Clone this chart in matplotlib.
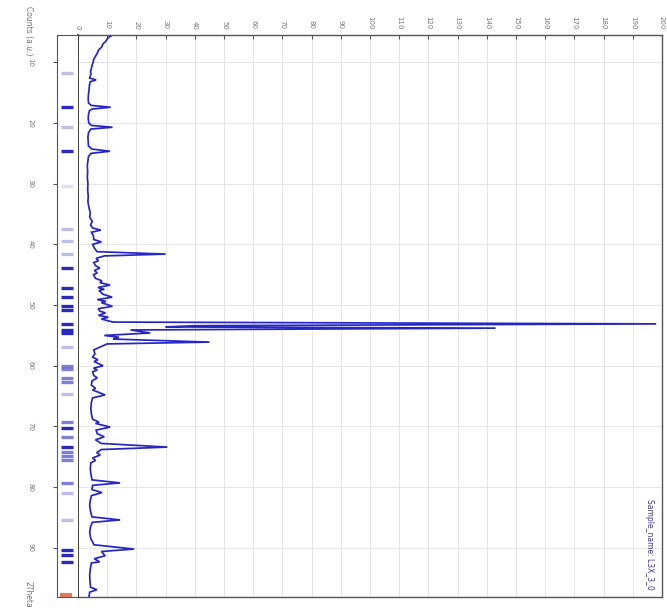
import matplotlib
matplotlib.use("Agg")
import matplotlib.pyplot as plt

# Measured scan: position (°2Theta) and counts
two_theta = [5.6, 6.0, 6.5, 7.0, 7.5, 8.0, 8.5, 9.0, 9.5, 10.0, 10.5, 11.0, 11.5, 12.0,
             12.6, 12.9, 13.2, 13.8, 14.5, 15.2, 16.0, 16.7, 17.1, 17.4, 17.7, 18.0,
             18.6, 19.3, 20.0, 20.4, 20.7, 21.0, 21.6, 22.3, 23.0, 23.8, 24.3, 24.65,
             25.0, 25.5, 26.3, 27.0, 28.0, 29.0, 30.0, 31.0, 32.0, 33.0, 34.0, 34.8,
             35.5, 36.2, 36.8, 37.3, 37.65, 38.0, 38.6, 39.2, 39.6, 40.0, 40.6, 41.2,
             41.6, 41.9, 42.3, 42.7, 43.0, 43.5, 43.9, 44.3, 44.7, 45.0, 45.6, 46.0,
             46.3, 46.7, 47.1, 47.4, 47.6, 48.2, 48.7, 49.1, 49.4, 49.6, 50.2, 50.6,
             51.0, 51.3, 51.7, 52.0, 52.3, 52.8, 53.1, 53.4, 53.6, 53.8, 54.1, 54.6,
             55.0, 55.3, 55.6, 56.1, 56.4, 56.9, 57.4, 58.0, 58.6, 59.0, 59.3, 60.0,
             60.4, 60.7, 61.0, 61.6, 62.0, 62.5, 63.2, 63.7, 64.0, 64.8, 65.3, 66.0,
             67.0, 68.0, 68.8, 69.3, 69.5, 70.1, 70.6, 71.2, 71.7, 72.2, 72.8, 73.4,
             73.8, 74.3, 74.7, 75.2, 75.6, 76.0, 77.0, 78.0, 78.8, 79.3, 79.7, 80.4,
             80.9, 81.4, 82.2, 83.0, 84.0, 84.9, 85.4, 85.8, 86.5, 87.5, 88.5, 89.5,
             90.2, 90.6, 91.3, 91.8, 92.3, 92.5, 93.5, 94.5, 95.5, 96.5, 96.9, 97.3,
             98.0]
counts = [11.5, 10.2, 9.6, 8.5, 8.1, 7.0, 6.6, 6.0, 5.4, 5.2, 4.8, 4.6, 4.3, 4.4,
          4.0, 6.2, 4.2, 3.9, 3.8, 3.6, 3.5, 3.6, 4.5, 11.2, 4.8, 3.9,
          3.6, 3.5, 3.7, 4.6, 11.8, 4.4, 3.6, 3.4, 3.5, 3.6, 4.8, 11.0,
          4.5, 3.6, 3.4, 3.2, 3.3, 3.2, 3.4, 3.3, 3.5, 3.4, 3.8, 4.2,
          4.0, 4.9, 4.3, 5.0, 7.8, 4.6, 5.3, 5.4, 8.0, 5.0, 5.6, 6.5,
          30.0, 9.0, 6.2, 7.0, 5.4, 6.0, 7.5, 5.6, 6.6, 5.3, 6.0, 8.2,
          7.5, 11.0, 6.8, 9.0, 7.2, 8.5, 11.7, 6.6, 9.6, 8.0, 11.8, 6.9,
          7.5, 9.4, 7.0, 10.4, 8.0, 12.0, 198.0, 40.0, 30.0, 143.0, 18.0, 24.7,
          9.0, 14.0, 12.0, 45.0, 10.0, 7.6, 5.4, 5.8, 5.0, 6.8, 5.5, 8.6,
          5.3, 6.6, 5.0, 5.4, 6.6, 4.8, 4.6, 6.0, 5.0, 9.3, 5.0, 4.6,
          4.4, 4.6, 5.0, 7.2, 6.0, 11.0, 6.2, 6.6, 9.0, 6.0, 8.0, 30.6,
          8.0, 6.4, 7.6, 5.0, 6.0, 4.4, 4.2, 4.5, 4.8, 14.4, 5.0, 4.8,
          8.2, 4.6, 4.2, 4.0, 4.3, 4.8, 14.4, 4.9, 4.3, 4.0, 4.4, 5.5,
          19.2, 8.0, 9.3, 5.6, 7.4, 4.6, 4.2, 4.0, 4.1, 4.3, 6.5, 4.0,
          3.8]

# Reference pattern: stick positions (°2Theta) and relative strength
ref_pos = [11.8, 17.4, 20.7, 24.65, 30.4, 37.5, 39.5, 41.6, 43.9, 47.2, 48.7, 50.2,
           50.8, 53.1, 54.1, 54.6, 56.9, 60.0, 60.5, 62.0, 62.7, 64.65, 69.3, 70.2,
           71.7, 73.4, 74.2, 74.9, 75.5, 79.3, 80.9, 85.4, 90.3, 91.15, 92.3]
ref_strength = [0.3, 1.0, 0.3, 1.0, 0.15, 0.3, 0.3, 0.3, 1.0, 1.0, 1.0, 1.0,
                1.0, 1.0, 1.0, 1.0, 0.3, 0.6, 0.6, 0.6, 0.6, 0.3, 0.6, 1.0,
                0.6, 1.0, 0.6, 0.6, 0.6, 0.6, 0.3, 0.3, 1.0, 1.0, 1.0]
marker_pos = [97.7]

count_ticks = list(range(0, 201, 10))
theta_ticks = [10, 20, 30, 40, 50, 60, 70, 80, 90]
sample_label = "Sample_name: L3X_3_0"

W, H = 667, 612
fig = plt.figure(figsize=(W / 100, H / 100), dpi=100)
fig.patch.set_facecolor("white")

top_px, bot_px = 35, 597
main_left, main_right = 78, 662
strip_left = 57
y0 = 1 - bot_px / H
hgt = (bot_px - top_px) / H

ax = fig.add_axes([main_left / W, y0, (main_right - main_left) / W, hgt])
axs = fig.add_axes([strip_left / W, y0, (main_left - strip_left) / W, hgt], sharey=ax)

ylim = (98.1, 5.5)
tick_color = "#777777"
spine_color = "#555555"

# Main scan
ax.plot(counts, two_theta, color="#2626c4", lw=1.25, solid_joinstyle="miter")
ax.set_xlim(0, 200)
ax.set_ylim(*ylim)
ax.set_xticks(count_ticks)
ax.xaxis.tick_top()
ax.tick_params(axis="x", direction="in", length=3, color=spine_color, labelsize=5,
               labelcolor=tick_color, labelrotation=-90, pad=4)
ax.tick_params(axis="y", left=False, labelleft=False)
ax.set_yticks(theta_ticks)
ax.grid(True, color="#e6e6e6", lw=0.7)
ax.set_axisbelow(True)
for s in ax.spines.values():
    s.set_color(spine_color)
    s.set_linewidth(1.0)
ax.spines["left"].set_color("#333333")
ax.spines["left"].set_linewidth(1.3)

ax.text(0.979, 0.012, sample_label, transform=ax.transAxes, rotation=-90,
        ha="center", va="bottom", fontsize=5.5, color="#3a3aa0")

# Reference pattern strip
for p, s in zip(ref_pos, ref_strength):
    axs.plot([0.2, 0.78], [p, p], color="#2a2ab8", alpha=s, lw=2.4,
             solid_capstyle="butt")
for p in marker_pos:
    axs.plot([0.15, 0.7], [p, p], color="#e07a5a", lw=3.0, solid_capstyle="butt")
axs.set_xlim(0, 1)
axs.set_xticks([])
axs.set_yticks(theta_ticks)
axs.tick_params(axis="y", direction="out", length=3, color=spine_color, labelsize=5,
                labelcolor=tick_color, labelrotation=-90, pad=14)
for lab in axs.get_yticklabels():
    lab.set_verticalalignment("center")
for s in axs.spines.values():
    s.set_color(spine_color)
axs.spines["right"].set_visible(False)

fig.text(28 / W, 1 - 6 / H, "Counts (a.u.)", rotation=-90, ha="center", va="top",
         fontsize=5.5, color=tick_color)
fig.text(28 / W, 1 - 581 / H, "2Theta", rotation=-90, ha="center", va="top",
         fontsize=5.5, color=tick_color)

fig.savefig("out.png", dpi=100, facecolor="white")
